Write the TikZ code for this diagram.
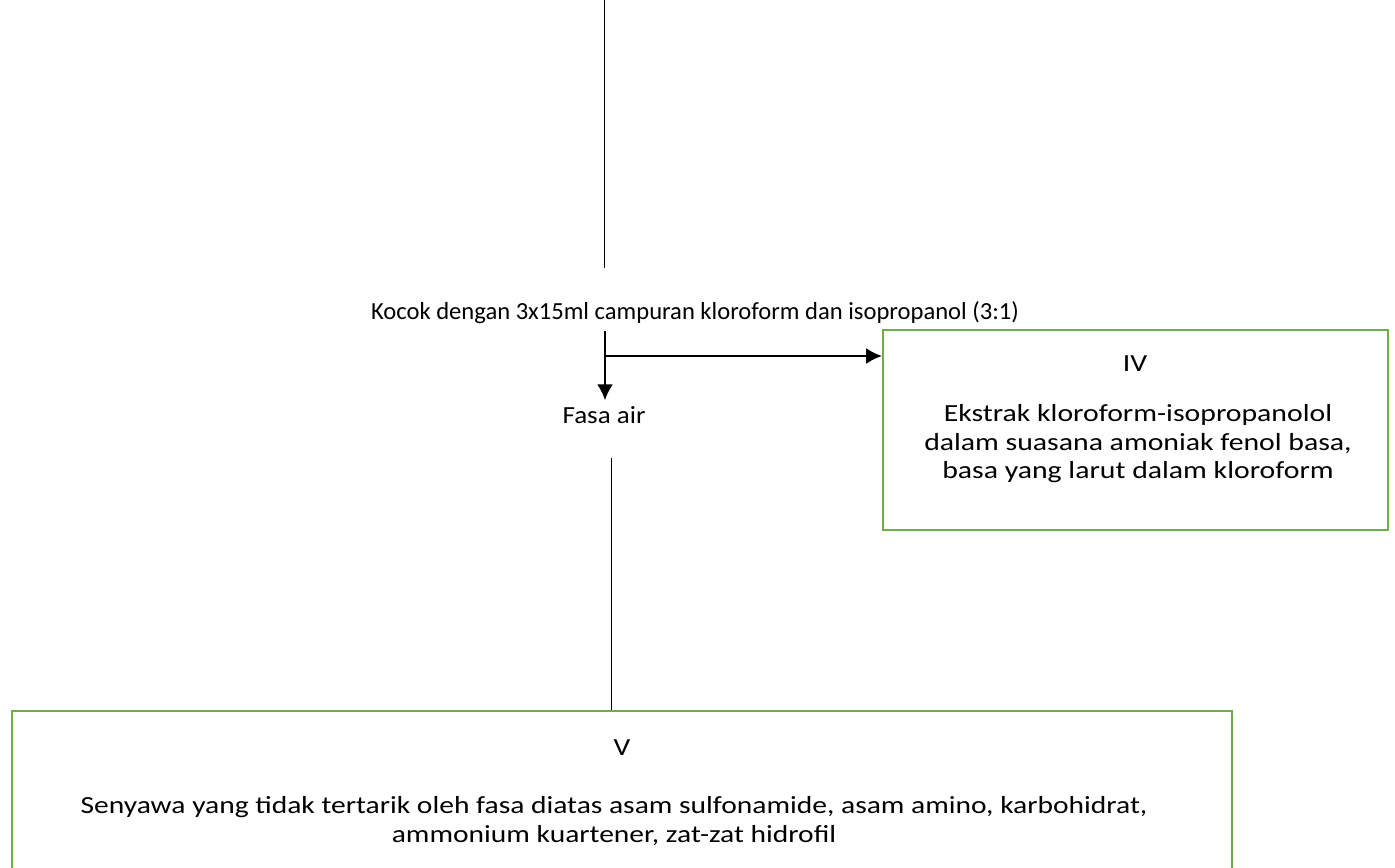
\documentclass[tikz,border=0pt]{standalone}
\usepackage{fontspec}
\setmainfont{Carlito}
\newfontfamily\fasafont[FakeStretch=1.1]{Carlito}
\newfontfamily\ivfont[FakeStretch=1.21]{Carlito}
\newfontfamily\vfont[FakeStretch=1.2]{Carlito}
\usetikzlibrary{arrows.meta,calc,positioning}
\usepackage{xcolor}
\newcommand{\pxu}{0.02cm}
\definecolor{boxgreen}{HTML}{70AD47}
\tikzset{
    txtsty/.style={font=\fontsize{14}{16.2}\selectfont, align=center},
    fasasty/.style={align=center, font=\fontsize{14}{16.2}\fasafont},
    ivsty/.style={align=center, font=\fontsize{14}{16.2}\ivfont},
    vsty/.style={align=center, font=\fontsize{14}{16.2}\vfont},
    boxsty/.style={draw=boxgreen, line width=1.1pt, rectangle, anchor=center},
    thinsty/.style={draw=black, line width=0.55pt},
    arrsty/.style={draw=black, line width=1.2pt},
}

\begin{document}
\begin{tikzpicture}[x=\pxu, y=-\pxu, >={Latex[length=9pt,width=9pt]}]
  \path[use as bounding box, clip] (0,0) rectangle (1395,867);

  % text of the flow
  \node[txtsty] (kocok) at (695,313) {Kocok dengan 3x15ml campuran kloroform dan isopropanol (3:1)};
  \node[fasasty] (fasa) at (604,415) {Fasa air};

  % box IV
  \node[boxsty, minimum width=505*\pxu, minimum height=200*\pxu] (iv) at (1135.5,430) {};
  \node[ivsty] (ivt) at (1135,364) {IV};
  \node[ivsty] (ivd) at (1138,444) {Ekstrak kloroform-isopropanolol\\dalam suasana amoniak fenol basa,\\basa yang larut dalam kloroform};

  % box V
  \node[boxsty, minimum width=1220*\pxu, minimum height=170*\pxu] (v) at (622,796) {};
  \node[vsty] (vt) at (622,748) {V};
  \node[vsty] (vd) at (614,821) {Senyawa yang tidak tertarik oleh fasa diatas asam sulfonamide, asam amino, karbohidrat,\\ammonium kuartener, zat-zat hidrofil};

  % connectors
  \coordinate (t0) at (604,0);
  \coordinate (t1) at (604,268);
  \coordinate (split) at (605,331);
  \coordinate (br) at (605,356);
  \coordinate (l0) at (611,458);
  \draw[thinsty] (t0) -- (t1);
  \draw[arrsty,->] (split) -- (split |- fasa.north);
  \draw[arrsty,->] (br) -- (br -| iv.west);
  \draw[thinsty] (l0) -- (l0 |- v.north);
\end{tikzpicture}
\end{document}
